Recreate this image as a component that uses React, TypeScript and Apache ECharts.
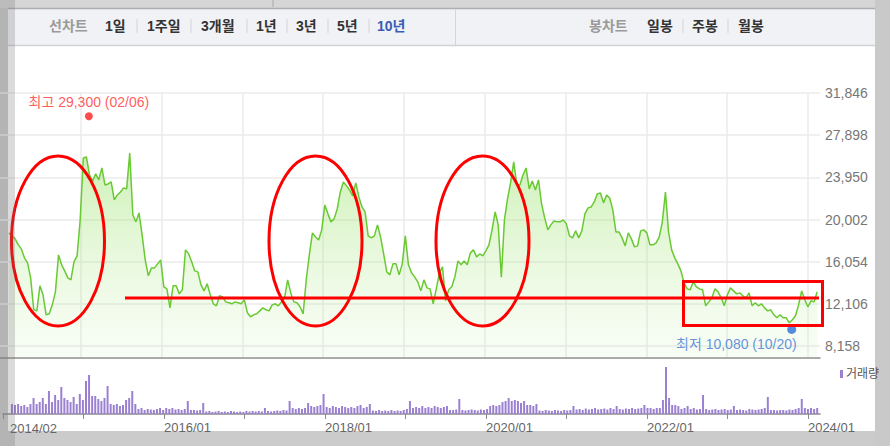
import React, { useEffect, useRef } from 'react';
import * as echarts from 'echarts';

// ---------- data ----------
// biweekly closing prices, first sample 2014-02-10
const firstSampleYear = 2014.111;
const sampleStepYears = 14 / 365.25;

const prices = [
  18750, 18470, 18190, 17630, 17250, 16410, 15940, 14540, 11550, 11450,
  13790, 12950, 11080, 11170, 12010, 13230, 16690, 15760, 15190, 14540,
  14350, 16040, 16600, 19970, 25760, 25860, 24180, 23610, 24270, 23710,
  24830, 23240, 23330, 23520, 21840, 22300, 22580, 22960, 22870, 26230,
  20430, 19780, 20620, 18560, 16220, 14730, 15470, 15470, 15850, 16220,
  13700, 13510, 11730, 13790, 13790, 13040, 13420, 17160, 16790, 16040,
  15190, 15100, 13880, 13320, 13980, 12950, 12110, 11920, 12860, 12760,
  12290, 12200, 12110, 12290, 12200, 12110, 12480, 11270, 10890, 11080,
  11170, 11450, 11730, 11550, 11450, 12010, 12110, 11920, 12290, 12670,
  14350, 13130, 12290, 12200, 11830, 11170, 14350, 16690, 18750, 18370,
  18090, 19030, 21370, 20530, 19780, 20060, 20990, 22580, 23520, 23150,
  22770, 22210, 23430, 22120, 21180, 20710, 18470, 18280, 18470, 19500,
  18370, 16780, 15100, 14820, 15850, 15850, 14820, 15850, 18470, 15760,
  15010, 14630, 14170, 13320, 14350, 13600, 13510, 12110, 13510, 15010,
  15570, 12390, 13420, 13700, 14630, 16130, 15760, 16130, 15760, 16880,
  17160, 16500, 16780, 16600, 17060, 17630, 19030, 20710, 19500, 14600,
  19970, 21930, 23460, 25390, 23240, 23240, 24170, 24830, 22870, 23610,
  22770, 23710, 21460, 20150, 19030, 19500, 19870, 19780, 19780, 19970,
  19590, 18470, 18280, 18940, 18280, 18940, 20530, 21090, 21180, 21650,
  22400, 22490, 21560, 22300, 22020, 20900, 18840, 18840, 18280, 17530,
  18750, 18190, 17440, 17530, 18940, 19030, 18750, 17630, 17630, 17810,
  18370, 19780, 22580, 18840, 17160, 16410, 15850, 15190, 14070, 13510,
  13420, 14170, 13700, 13510, 13420, 11920, 12290, 12670, 13510, 13230,
  12670, 11920, 12950, 13600, 13320, 13040, 13130, 12860, 12670, 13130,
  11920, 12200, 11920, 12110, 11730, 11450, 11550, 11080, 10800, 11080,
  10800, 10800, 10330, 10610, 10990, 12010, 13320, 12480, 11830, 12390,
  12290, 13230,
];

const volumes = [
  20, 18, 20, 16, 18, 14, 20, 32, 20, 24,
  32, 20, 46, 24, 38, 28, 54, 32, 28, 24,
  34, 20, 40, 28, 66, 78, 36, 36, 30, 26,
  32, 56, 20, 18, 20, 16, 18, 28, 32, 46,
  20, 10, 12, 8, 10, 9, 8, 10, 12, 8,
  12, 10, 12, 9, 10, 8, 10, 26, 8, 8,
  7, 8, 22, 5, 6, 4, 5, 6, 4, 5,
  4, 6, 5, 4, 5, 4, 6, 5, 6, 5,
  6, 5, 12, 6, 5, 6, 7, 6, 8, 7,
  26, 12, 10, 12, 10, 12, 22, 16, 14, 16,
  18, 40, 14, 12, 16, 14, 12, 16, 14, 12,
  14, 12, 16, 18, 12, 14, 20, 7, 6, 8,
  6, 7, 6, 8, 6, 7, 6, 8, 10, 26,
  12, 14, 12, 16, 12, 14, 12, 16, 14, 12,
  14, 16, 8, 8, 9, 30, 8, 7, 8, 9,
  8, 7, 9, 8, 10, 16, 18, 16, 18, 24,
  26, 32, 26, 28, 26, 22, 26, 18, 18, 16,
  20, 7, 6, 8, 7, 6, 8, 7, 6, 8,
  7, 8, 16, 9, 10, 8, 11, 9, 10, 12,
  9, 10, 11, 9, 12, 10, 16, 10, 9, 11,
  10, 12, 10, 11, 12, 18, 12, 12, 10, 12,
  12, 28, 94, 32, 18, 18, 16, 10, 12, 16,
  10, 12, 9, 10, 38, 10, 8, 9, 10, 8,
  9, 10, 8, 9, 16, 8, 9, 8, 7, 10,
  9, 8, 9, 10, 12, 34, 8, 8, 7, 8,
  8, 7, 9, 8, 10, 12, 30, 12, 10, 12,
  10, 12,
];

const priceTicks = [8158, 12106, 16054, 20002, 23950, 27898, 31846];
const priceMin = 7035;
const priceMax = 31846;
const yearMin = 2014;
const yearMax = 2024.15;
const firstDateLabel = '2014/02';

const highPoint = { year: 2015.1, value: 29300, text: '최고 29,300 (02/06)' };
const lowPoint = { year: 2023.8, value: 10080, text: '최저 10,080 (10/20)' };

const chartTypeLabel = '선차트';
const periodTabs = ['1일', '1주일', '3개월', '1년', '3년', '5년', '10년'];
const candleTypeLabel = '봉차트';
const candleTabs = ['일봉', '주봉', '월봉'];
const volumeName = '거래량';

// ---------- layout ----------
const FONT = "'Liberation Sans', 'Noto Sans CJK KR', sans-serif";
const periodTabX = [105, 147, 201, 256, 296, 337, 377];
const periodSepX = [137, 191, 247, 287, 328, 369];
const candleTabX = [647, 692, 738];
const candleSepX = [683, 728];

function buildOption() {
  const priceData = prices.map((v, i) => [firstSampleYear + i * sampleStepYears, v]);
  const volData = volumes.map((v, i) => [firstSampleYear + i * sampleStepYears, v]);

  const tabText = (text: string, x: number, fill: string) => ({
    type: 'text',
    x,
    y: 26,
    z: 20,
    silent: true,
    style: { text, fill, fontSize: 14, fontWeight: 'bold', fontFamily: FONT, align: 'left', verticalAlign: 'middle' },
  });
  const sep = (x: number) => ({
    type: 'line',
    z: 20,
    silent: true,
    shape: { x1: x, y1: 19, x2: x, y2: 33 },
    style: { stroke: '#d4d4d8', lineWidth: 1 },
  });
  const red = { fill: 'none', stroke: '#ff0000', lineWidth: 3 };

  const graphic: any[] = [
    { type: 'rect', z: -10, silent: true, shape: { x: 0, y: 0, width: 890, height: 446 }, style: { fill: '#cbcbcb' } },
    { type: 'rect', z: -9, silent: true, shape: { x: 0, y: 0, width: 890, height: 8 }, style: { fill: '#d6d6d6' } },
    { type: 'line', z: -9, silent: true, shape: { x1: 273, y1: 0, x2: 273, y2: 7 }, style: { stroke: '#a8a8a8', lineWidth: 1 } },
    { type: 'rect', z: -9, silent: true, shape: { x: 8, y: 45, width: 867, height: 386 }, style: { fill: '#ffffff' } },
    { type: 'rect', z: -9, silent: true, shape: { x: 8, y: 8, width: 867, height: 37 }, style: { fill: '#f1f2f6' } },
    { type: 'line', z: -8, silent: true, shape: { x1: 8, y1: 8.5, x2: 875, y2: 8.5 }, style: { stroke: '#aeaeae', lineWidth: 1.5 } },
    { type: 'line', z: -8, silent: true, shape: { x1: 8, y1: 45.5, x2: 875, y2: 45.5 }, style: { stroke: '#d2d2d6', lineWidth: 1.5 } },
    { type: 'line', z: -8, silent: true, shape: { x1: 455.5, y1: 9, x2: 455.5, y2: 45 }, style: { stroke: '#d6d6da', lineWidth: 1 } },
    tabText(chartTypeLabel, 49, '#9a9a9a'),
    ...periodTabs.map((t, i) => tabText(t, periodTabX[i], i === periodTabs.length - 1 ? '#3a5bb5' : '#333333')),
    ...periodSepX.map(sep),
    tabText(candleTypeLabel, 589, '#9a9a9a'),
    ...candleTabs.map((t, i) => tabText(t, candleTabX[i], '#333333')),
    ...candleSepX.map(sep),
    {
      type: 'text', x: 10, y: 428, z: 20, silent: true,
      style: { text: firstDateLabel, fill: '#666666', fontSize: 13, fontFamily: FONT, align: 'left', verticalAlign: 'middle' },
    },
    // annotations
    { type: 'ellipse', z: 100, silent: true, shape: { cx: 58, cy: 241, rx: 46.5, ry: 85 }, style: red },
    { type: 'ellipse', z: 100, silent: true, shape: { cx: 315.5, cy: 241, rx: 46.5, ry: 85 }, style: red },
    { type: 'ellipse', z: 100, silent: true, shape: { cx: 482.5, cy: 241, rx: 46.5, ry: 85 }, style: red },
    { type: 'line', z: 100, silent: true, shape: { x1: 125, y1: 298, x2: 819, y2: 298 }, style: { stroke: '#ff0000', lineWidth: 3 } },
    { type: 'rect', z: 100, silent: true, shape: { x: 683.5, y: 281.5, width: 139, height: 44 }, style: red },
    // frame overlays
    { type: 'rect', z: 110, silent: true, shape: { x: 0, y: 0, width: 15, height: 446 }, style: { fill: 'rgba(110,110,110,0.25)' } },
    { type: 'rect', z: 110, silent: true, shape: { x: 875, y: 0, width: 15, height: 446 }, style: { fill: '#c9c9c9' } },
  ];

  return {
    animation: false,
    backgroundColor: 'transparent',
    textStyle: { fontFamily: FONT },
    grid: [
      { left: -1, right: 70, top: 93, bottom: 88 },
      { left: -1, right: 70, top: 360, bottom: 32 },
    ],
    legend: {
      data: [volumeName],
      left: 840,
      top: 368,
      padding: 0,
      z: 120,
      icon: 'rect',
      itemWidth: 3,
      itemHeight: 8,
      selectedMode: false,
      textStyle: { fontSize: 12, color: '#555555', fontFamily: FONT, padding: [0, 0, 0, -2] },
    },
    xAxis: [
      {
        type: 'value', gridIndex: 0, min: yearMin, max: yearMax, interval: 1,
        axisLabel: { show: false },
        axisTick: { show: false },
        axisLine: { show: true, onZero: false, lineStyle: { color: '#8c8c8c', width: 1.5 } },
        splitLine: { show: true, showMaxLine: false, showMinLine: false, lineStyle: { color: '#ebebeb', width: 1.5 } },
      },
      {
        type: 'value', gridIndex: 1, min: yearMin, max: yearMax, interval: 1,
        axisLine: { show: true, onZero: false, lineStyle: { color: '#8c8c8c', width: 1.5 } },
        axisTick: { show: true, length: 5, lineStyle: { color: '#8c8c8c', width: 1 } },
        axisLabel: {
          show: true,
          align: 'left',
          color: '#666666',
          fontSize: 13,
          margin: 7,
          showMaxLabel: false,
          formatter: (v: number) => {
            const r = Math.round(v);
            if (Math.abs(v - r) > 1e-6 || r % 2 !== 0 || r === yearMin) return '';
            return `${r}/01`;
          },
        },
        splitLine: { show: false },
      },
    ],
    yAxis: [
      {
        type: 'value', gridIndex: 0, position: 'right', min: priceMin, max: priceMax,
        axisLine: { show: false },
        axisTick: { show: false, customValues: priceTicks },
        axisLabel: {
          show: true, customValues: priceTicks, color: '#777777', fontSize: 14, margin: 5,
          formatter: (v: number) => Math.round(v).toLocaleString('en-US'),
        },
        splitLine: { show: true, lineStyle: { color: '#ebebeb', width: 1.5 } },
      },
      { type: 'value', gridIndex: 1, min: 0, max: 108, show: false },
    ],
    series: [
      {
        name: '주가',
        type: 'line',
        xAxisIndex: 0,
        yAxisIndex: 0,
        data: priceData,
        symbol: 'none',
        showSymbol: false,
        lineStyle: { color: '#69c932', width: 1.5 },
        areaStyle: {
          origin: 'start',
          color: new echarts.graphic.LinearGradient(0, 0, 0, 1, [
            { offset: 0, color: 'rgba(140,222,85,0.62)' },
            { offset: 0.5, color: 'rgba(160,228,115,0.35)' },
            { offset: 1, color: 'rgba(190,236,160,0.14)' },
          ]),
        },
        z: 3,
      },
      {
        name: '최고',
        type: 'scatter',
        xAxisIndex: 0,
        yAxisIndex: 0,
        data: [[highPoint.year, highPoint.value]],
        symbolSize: 8,
        symbolOffset: [0, -4],
        itemStyle: { color: '#ff1e1e' },
        label: {
          show: true, position: 'top', distance: 3, formatter: highPoint.text,
          color: '#ff3030', fontSize: 14, fontFamily: FONT,
        },
        z: 6,
      },
      {
        name: '최저',
        type: 'scatter',
        xAxisIndex: 0,
        yAxisIndex: 0,
        data: [[lowPoint.year, lowPoint.value]],
        symbolSize: 9,
        symbolOffset: [0, 4],
        itemStyle: { color: '#2b6fd8' },
        label: {
          show: true, position: 'bottom', distance: 3, align: 'right', offset: [5, 0], formatter: lowPoint.text,
          color: '#3a78d6', fontSize: 14, fontFamily: FONT,
        },
        z: 6,
      },
      {
        name: volumeName,
        type: 'bar',
        xAxisIndex: 1,
        yAxisIndex: 1,
        data: volData,
        barWidth: 2,
        itemStyle: { color: '#9b80d2' },
        z: 3,
      },
    ],
    graphic,
  };
}

export default function App() {
  const ref = useRef<HTMLDivElement>(null);
  useEffect(() => {
    document.body.style.margin = '0';
    const chart = echarts.init(ref.current!, undefined, { renderer: 'svg', width: 890, height: 446 });
    chart.setOption(buildOption() as any);
    return () => chart.dispose();
  }, []);
  return <div ref={ref} style={{ position: 'absolute', left: 0, top: 0, width: 890, height: 446 }} />;
}
